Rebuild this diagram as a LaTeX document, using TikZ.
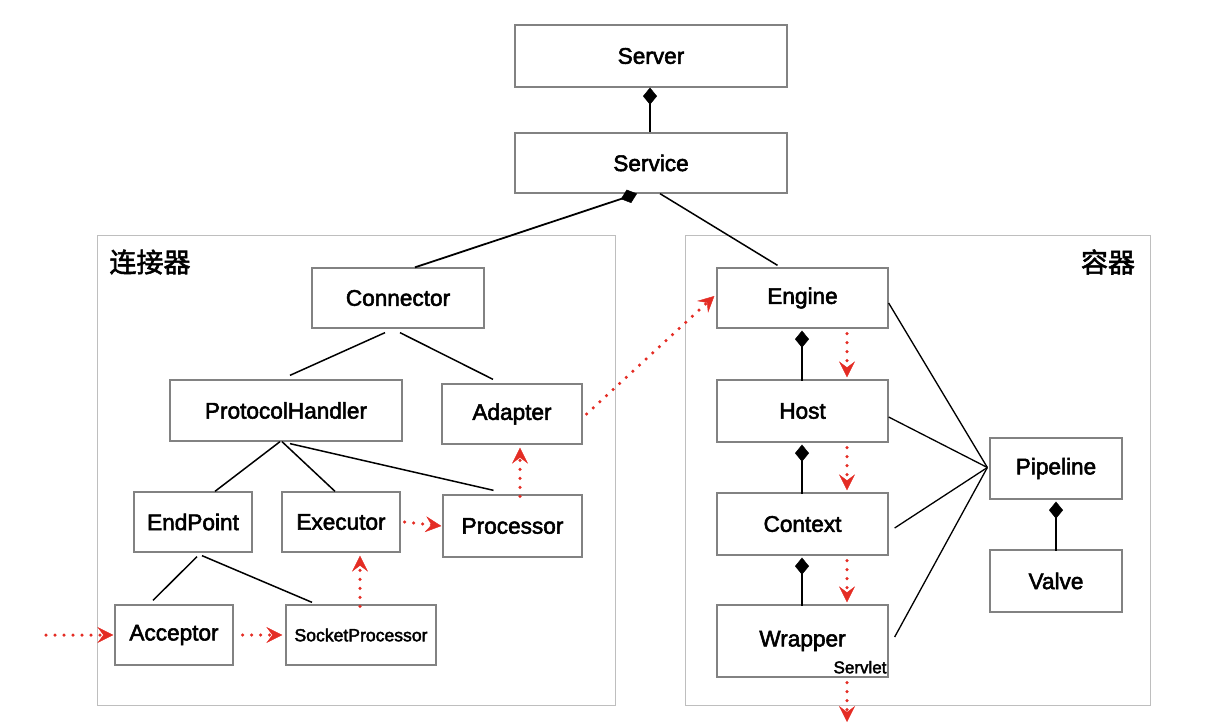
\documentclass[tikz,border=0pt]{standalone}
\usepackage{fontspec}
\setmainfont{Liberation Sans}
\newfontfamily\boxfont{Liberation Sans}[FakeBold=2.4]
\newfontfamily\cjk{Noto Sans CJK SC}[FakeBold=2]
\usetikzlibrary{arrows.meta,calc}
\definecolor{flowred}{RGB}{228,44,36}
\definecolor{boxline}{RGB}{130,130,130}
\definecolor{frameline}{RGB}{190,190,190}
\tikzset{
  box/.style={draw=boxline, line width=1.3pt, fill=white, rectangle, inner sep=0pt,
    font=\boxfont\fontsize{22.6}{26}\selectfont},
  smallbox/.style={box, font=\boxfont\fontsize{17.6}{20}\selectfont},
  frame/.style={draw=frameline, line width=1pt},
  comp/.style={draw=black, line width=1.8pt, {Diamond[length=17pt,width=14pt,line width=0.4pt]}-},
  assoc/.style={draw=black, line width=1.5pt},
  flow/.style={draw=flowred, line width=3.5pt, line cap=round, dash pattern=on 0pt off 9pt,
    -{Stealth[length=16pt,width=16pt,inset=6pt,line width=0.4pt,flowred]}},
  grouplabel/.style={font=\cjk\fontsize{27}{31}\selectfont, inner sep=0pt},
}
\begin{document}
\begin{tikzpicture}[x=1pt,y=-1pt]
\useasboundingbox (0,0) rectangle (1219,725);
% frames
\draw[frame] (97,235) rectangle (615,705);
\draw[frame] (685,235) rectangle (1150,705);
\node[grouplabel] (lblconn) at (150,262) {连接器};
\node[grouplabel] (lblcont) at (1108,262) {容器};

% boxes
\node[box, minimum width=272pt, minimum height=62pt] (server) at (651,56) {Server};
\node[box, minimum width=272pt, minimum height=60pt] (service) at (651,163) {Service};
\node[box, minimum width=172pt, minimum height=60pt] (connector) at (398,298) {Connector};
\node[box, minimum width=232pt, minimum height=61pt] (ph) at (286,410.5) {ProtocolHandler};
\node[box, minimum width=140pt, minimum height=60pt] (adapter) at (512,414) {Adapter};
\node[box, minimum width=118pt, minimum height=60pt] (endpoint) at (193,522) {EndPoint};
\node[box, minimum width=118pt, minimum height=60pt] (executor) at (341,522) {Executor};
\node[box, minimum width=139pt, minimum height=62pt] (processor) at (512.5,526) {Processor};
\node[box, minimum width=118pt, minimum height=60pt] (acceptor) at (174,635) {Acceptor};
\node[smallbox, minimum width=150pt, minimum height=60pt] (sp) at (361,635) {SocketProcessor};

\node[box, minimum width=171pt, minimum height=60pt] (engine) at (802.5,298) {Engine};
\node[box, minimum width=171pt, minimum height=62pt] (host) at (802.5,411) {Host};
\node[box, minimum width=171pt, minimum height=62pt] (context) at (802.5,524) {Context};
\node[box, minimum width=171pt, minimum height=72pt] (wrapper) at (802.5,641) {Wrapper};
\node[font=\boxfont\fontsize{17}{19}\selectfont, anchor=south east, inner sep=0pt] (servlet) at ($(wrapper.south east)+(-2pt,4pt)$) {Servlet};
\node[box, minimum width=132pt, minimum height=61pt] (pipeline) at (1056,468.5) {Pipeline};
\node[box, minimum width=132pt, minimum height=62pt] (valve) at (1056,581) {Valve};

% composition / association lines
\draw[comp] ([xshift=-1pt]server.south) -- ([xshift=-1pt]service.north);
\draw[comp] ([xshift=-14pt]service.south) -- ([xshift=17pt]connector.north);
\draw[assoc] ([xshift=9pt]service.south) -- ([xshift=-25pt,yshift=2pt]engine.north);
\draw[assoc] ([xshift=-13pt,yshift=-4pt]connector.south) -- ([xshift=4pt,yshift=4pt]ph.north);
\draw[assoc] ([xshift=2pt,yshift=-4pt]connector.south) -- ([xshift=-19pt,yshift=4pt]adapter.north);
\draw[assoc] ([xshift=-6pt]ph.south) -- ([xshift=22pt]endpoint.north);
\draw[assoc] ([xshift=-4pt]ph.south) -- ([xshift=-6pt]executor.north);
\draw[assoc] ([xshift=4pt,yshift=-2pt]ph.south) -- ([xshift=-19pt,yshift=4pt]processor.north);
\draw[assoc] ([xshift=4pt,yshift=-4pt]endpoint.south) -- ([xshift=-21pt,yshift=4pt]acceptor.north);
\draw[assoc] ([xshift=9pt,yshift=-3pt]endpoint.south) -- ([xshift=-49pt,yshift=2pt]sp.north);

\draw[comp] ([xshift=-0.5pt,yshift=-2pt]engine.south) -- ([xshift=-0.5pt,yshift=-2pt]host.north);
\draw[comp] ([xshift=-0.5pt,yshift=-2pt]host.south) -- ([xshift=-0.5pt,yshift=-2pt]context.north);
\draw[comp] ([xshift=-0.5pt,yshift=-2pt]context.south) -- ([xshift=-0.5pt,yshift=-2pt]wrapper.north);
\draw[comp] ([yshift=-2pt]pipeline.south) -- ([yshift=-2pt]valve.north);

\coordinate (hub) at ($(pipeline.west)+(-2pt,1pt)$);
\draw[assoc, line width=1.3pt] (hub) -- ([yshift=-5pt]engine.east);
\draw[assoc, line width=1.3pt] (hub) -- ([yshift=-6pt]host.east);
\draw[assoc, line width=1.3pt] (hub) -- ([xshift=6pt,yshift=-4pt]context.east);
\draw[assoc, line width=1.3pt] (hub) -- ([xshift=6pt,yshift=4pt]wrapper.east);

% red flow arrows
\coordinate (in) at (46,635);
\coordinate (out) at (847,722);
\draw[flow] (in) -- ([xshift=-1pt]acceptor.west);
\draw[flow] ([xshift=9pt]acceptor.east) -- ([xshift=-3pt]sp.west);
\draw[flow] ([xshift=-1pt,yshift=-2pt]sp.north) -- ([xshift=19pt,yshift=-3pt]executor.south);
\draw[flow] ([xshift=4pt]executor.east) -- ([xshift=-1pt]processor.west);
\draw[flow] ([xshift=7.5pt,yshift=-2pt]processor.north) -- ([xshift=8pt,yshift=-3pt]adapter.south);
\draw[flow] ([xshift=4pt]adapter.east) -- ([xshift=-2pt,yshift=2pt]engine.west);
\draw[flow] ([xshift=44.5pt,yshift=-5pt]engine.south) -- ([xshift=44.5pt,yshift=2pt]host.north);
\draw[flow] ([xshift=44.5pt,yshift=-5pt]host.south) -- ([xshift=44.5pt,yshift=2pt]context.north);
\draw[flow] ([xshift=44.5pt,yshift=-5pt]context.south) -- ([xshift=44.5pt,yshift=2pt]wrapper.north);
\draw[flow] ([xshift=44.5pt,yshift=-5pt]wrapper.south) -- (out);
\end{tikzpicture}
\end{document}
